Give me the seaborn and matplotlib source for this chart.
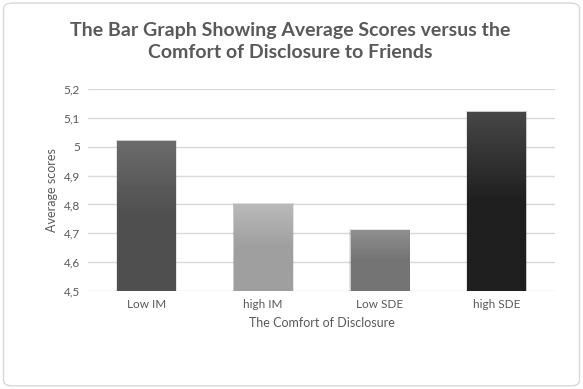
import matplotlib
matplotlib.use("Agg")
import matplotlib.pyplot as plt
import seaborn as sns
import pandas as pd
import numpy as np
from matplotlib.patches import FancyBboxPatch
from matplotlib.colors import LinearSegmentedColormap

categories = ["Low IM", "high IM", "Low SDE", "high SDE"]
scores = [5.02, 4.80, 4.71, 5.12]
tick_vals = [4.5, 4.6, 4.7, 4.8, 4.9, 5.0, 5.1, 5.2]
tick_labels = ["4,5", "4,6", "4,7", "4,8", "4,9", "5", "5,1", "5,2"]
# top colour, bottom colour of each bar gradient
grad_top = ["#6b6b6b", "#bababa", "#8f8f8f", "#474747"]
grad_bot = ["#4f4f4f", "#9f9f9f", "#747474", "#1f1f1f"]

sns.set_theme(style="white")
plt.rcParams["font.family"] = ["Lato", "DejaVu Sans"]

df = pd.DataFrame({"group": categories, "score": scores})

fig = plt.figure(figsize=(5.83, 3.89), dpi=100)
ax = fig.add_axes([0.151, 0.252, 0.801, 0.519])

sns.barplot(data=df, x="group", y="score", color="#808080", width=0.5, ax=ax)
ax.set_ylim(4.5, 5.2)

# replace flat fills by vertical gradients
for i, p in enumerate(ax.patches):
    x0, y0 = p.get_x(), p.get_y()
    w, h = p.get_width(), p.get_height()
    p.set_facecolor("none")
    p.set_edgecolor("none")
    cmap = LinearSegmentedColormap.from_list("g%d" % i, [grad_bot[i], grad_bot[i], grad_top[i]])
    grad = np.linspace(0, 1, 256).reshape(-1, 1)
    top = y0 + h
    ax.imshow(grad, cmap=cmap, aspect="auto", origin="lower",
              extent=[x0, x0 + w, 4.5, top], zorder=3)
    # soft shadow
    for k, a in [(0.012, 0.10), (0.006, 0.12)]:
        ax.add_patch(plt.Rectangle((x0 - k, 4.5), w + 2 * k, top - 4.5 + k * 0.4,
                                   facecolor="black", alpha=a, edgecolor="none", zorder=2.5))
ax.set_xlim(-0.5, 3.5)
ax.set_ylim(4.5, 5.2)

ax.set_yticks(tick_vals)
ax.set_yticklabels(tick_labels)
ax.yaxis.grid(True, color="#d9d9d9", linewidth=1)
ax.set_axisbelow(True)
for s in ax.spines.values():
    s.set_visible(False)
ax.tick_params(axis="both", length=0, labelsize=8.5, colors="#595959", pad=6)
ax.set_xlabel("The Comfort of Disclosure", fontsize=9, color="#595959", labelpad=5)
ax.set_ylabel("Average scores", fontsize=9, color="#595959", labelpad=4)

fig.text(0.497, 0.943, "The Bar Graph Showing Average Scores versus the\nComfort of Disclosure to Friends",
         ha="center", va="top", fontsize=14, fontweight="bold", color="#595959", linespacing=1.35)

border = FancyBboxPatch((0.006, 0.008), 0.988, 0.984, boxstyle="round,pad=0,rounding_size=0.015",
                        transform=fig.transFigure, facecolor="none", edgecolor="#d9d9d9", linewidth=1)
fig.patches.append(border)

fig.savefig("out.png", dpi=100)
